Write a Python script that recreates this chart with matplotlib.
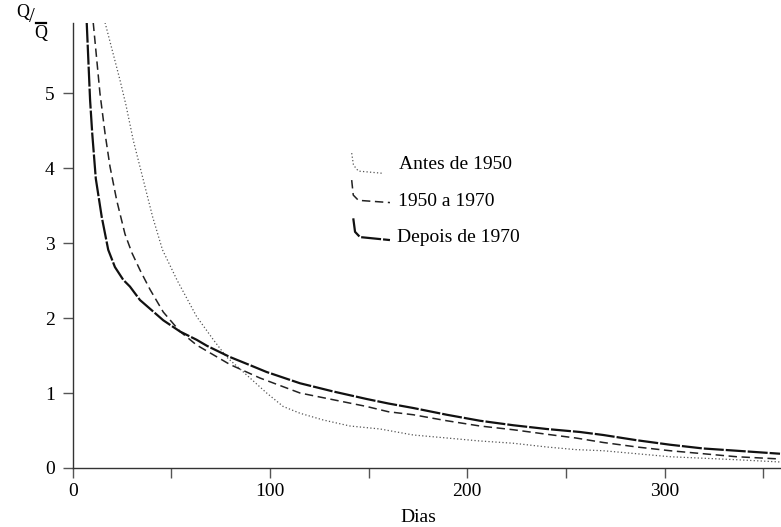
import numpy as np
import matplotlib
matplotlib.use('Agg')
import matplotlib.pyplot as plt
from matplotlib.lines import Line2D

plt.rcParams['font.family'] = ['Liberation Serif', 'DejaVu Serif']

# =============================================================================
# Data
# =============================================================================
dias_depois = [7.1, 8.8, 9.9, 11.7, 14.7, 18.0, 21.4, 25.6, 29.0, 34.1, 45.9,
               54.4, 62.8, 68.0, 79.7, 90.0, 98.3, 115.2, 132.1, 149.0, 160.0,
               172.6, 189.6, 206.4, 223.3, 240.2, 257.1, 268.9, 285.9, 302.8,
               319.6, 336.5, 358.5]
q_depois = [5.94, 4.91, 4.46, 3.86, 3.35, 2.91, 2.68, 2.51, 2.42, 2.24, 1.97,
            1.82, 1.71, 1.63, 1.48, 1.37, 1.28, 1.13, 1.02, 0.92, 0.86,
            0.80, 0.71, 0.63, 0.57, 0.52, 0.48, 0.44, 0.37, 0.31,
            0.26, 0.23, 0.19]

dias_1950 = [10.4, 13.8, 16.4, 18.9, 22.3, 26.5, 30.0, 34.1, 39.2, 45.9, 54.4,
             62.8, 79.7, 94.9, 115.2, 132.1, 149.0, 160.0, 172.6, 189.6,
             206.4, 223.3, 240.2, 255.0, 268.9, 285.9, 302.8, 319.6, 336.5,
             358.5]
q_1950 = [5.94, 5.00, 4.46, 4.02, 3.57, 3.12, 2.87, 2.64, 2.38, 2.08, 1.82,
          1.64, 1.38, 1.20, 1.00, 0.91, 0.82, 0.75, 0.71, 0.63,
          0.56, 0.51, 0.45, 0.40, 0.34, 0.28, 0.23, 0.19, 0.15, 0.12]

dias_antes = [16.4, 24.0, 27.0, 30.7, 35.8, 40.5, 45.5, 53.0, 62.8, 71.3, 78.0,
              86.5, 98.3, 106.7, 115.2, 127.0, 140.5, 155.8, 172.6, 189.6,
              206.4, 223.3, 240.2, 255.0, 268.9, 285.9, 302.8, 319.6, 336.5,
              358.5]
q_antes = [5.94, 5.17, 4.84, 4.37, 3.84, 3.35, 2.91, 2.50, 2.02, 1.71, 1.48,
           1.28, 1.00, 0.82, 0.73, 0.64, 0.56, 0.52, 0.44, 0.40,
           0.36, 0.33, 0.28, 0.245, 0.23, 0.19, 0.15, 0.13, 0.11, 0.08]

series_labels = ['Antes de 1950', '1950 a 1970', 'Depois de 1970']

# small hook-shaped legend keys (data coordinates)
key_x = [[141.4, 142.3, 144.8, 157.4],
         [141.4, 142.2, 144.8, 160.8],
         [142.2, 143.1, 145.6, 160.8]]
key_y = [[4.20, 4.04, 3.96, 3.93],
         [3.84, 3.64, 3.57, 3.54],
         [3.33, 3.15, 3.08, 3.04]]
label_pos = [(165.5, 4.05), (164.8, 3.56), (164.5, 3.07)]

x_major = [0, 100, 200, 300]
x_minor = [50, 150, 250, 350]
y_major = [0, 1, 2, 3, 4, 5]

# =============================================================================
# Plot
# =============================================================================
fig = plt.figure(figsize=(7.81, 5.27), dpi=100)
ax = fig.add_axes([0.0931, 0.112, 0.9069, 0.845])

styles = [
    dict(color='#555555', lw=0.9, dashes=(1.0, 1.8)),
    dict(color='#222222', lw=1.1, dashes=(5.5, 3.0)),
    dict(color='#111111', lw=1.6, dashes=(9.0, 0.9)),
]
curves = [(dias_antes, q_antes), (dias_1950, q_1950), (dias_depois, q_depois)]

for (xs, ys), st in zip(curves, styles):
    ax.plot(xs, ys, solid_joinstyle='round', dash_joinstyle='round', **st)

for kx, ky, st, lab, (tx, ty) in zip(key_x, key_y, styles, series_labels,
                                     label_pos):
    ax.plot(kx, ky, dash_joinstyle='round', **st)
    ax.text(tx, ty, lab, fontsize=14, va='center', ha='left')

ax.set_xlim(0, 359)
ax.set_ylim(0, 5.94)
ax.set_xticks(x_major)
ax.set_xticks(x_minor, minor=True)
ax.set_yticks(y_major)

for side in ['top', 'right']:
    ax.spines[side].set_visible(False)
for side in ['left', 'bottom']:
    ax.spines[side].set_color('#333333')
    ax.spines[side].set_linewidth(1.0)

ax.tick_params(axis='both', which='both', direction='out', length=7,
               width=1.0, color='#555555', labelsize=14, pad=4)
ax.tick_params(axis='y', pad=6)

ax.set_xlabel('Dias', fontsize=14)
ax.xaxis.set_label_coords(0.4875, -0.093)

# y-axis label Q/Q-bar drawn top left
fig.text(23 / 781, 1 - 13 / 527, 'Q', fontsize=13, ha='center', va='center')
fig.text(32 / 781, 1 - 18 / 527, '/', fontsize=15, ha='center', va='center')
fig.text(41 / 781, 1 - 34 / 527, 'Q', fontsize=13, ha='center', va='center')
fig.add_artist(Line2D([36 / 781, 46 / 781], [1 - 23 / 527, 1 - 23 / 527],
                      transform=fig.transFigure, color='black', lw=1.6))

fig.savefig('out.png', dpi=100)
